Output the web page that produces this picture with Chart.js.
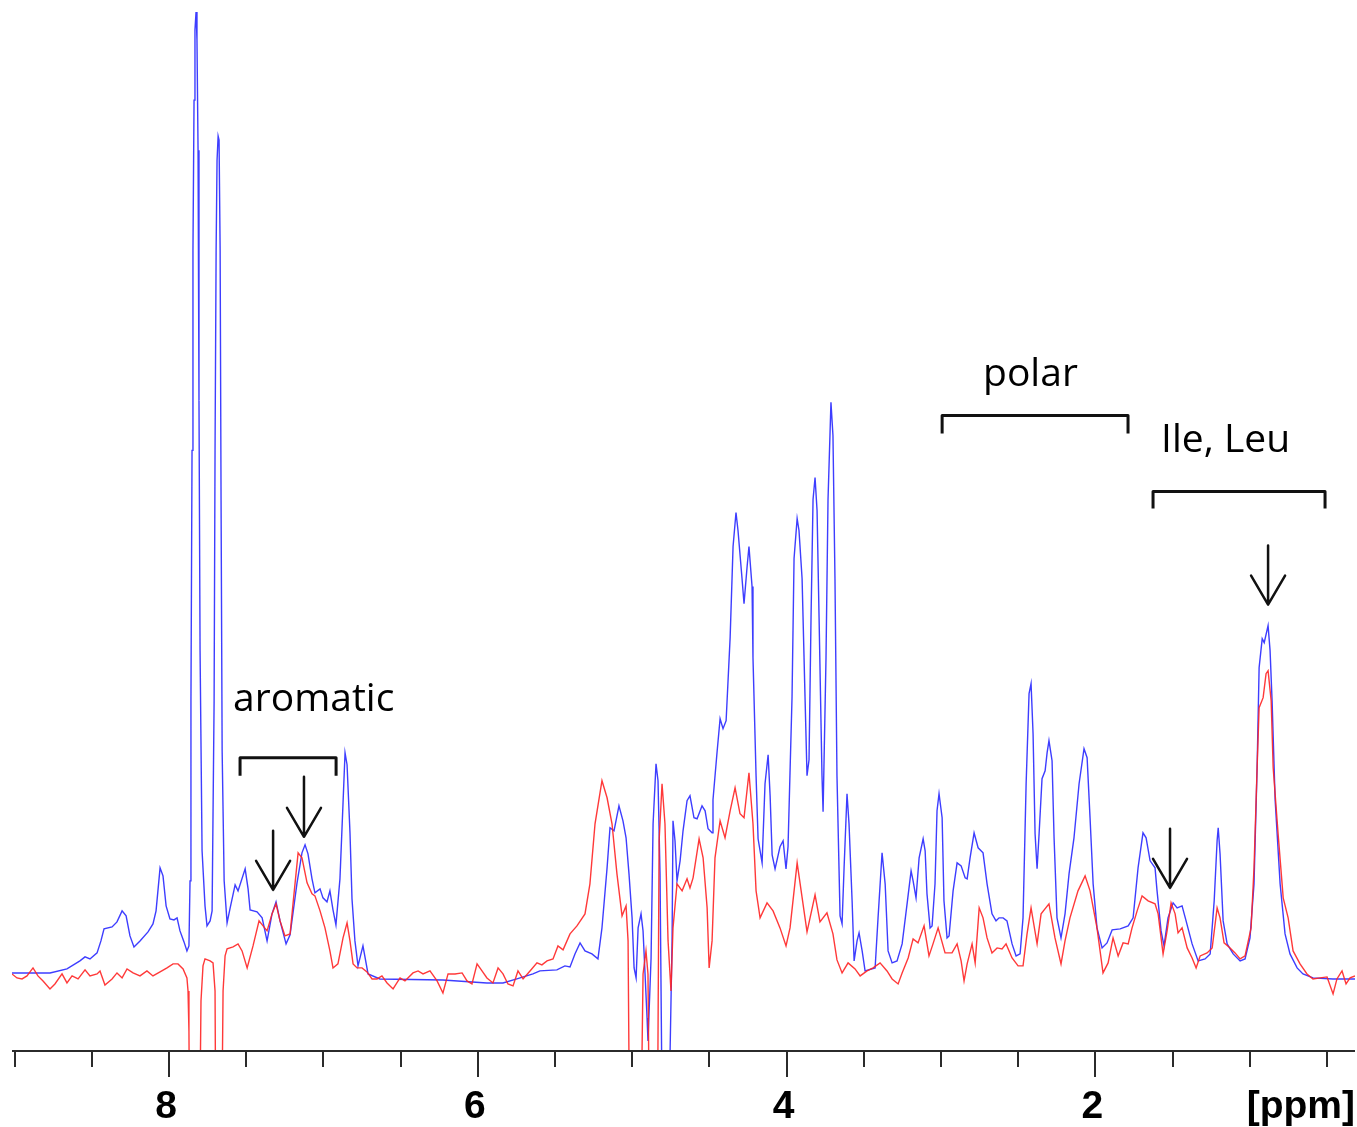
<!DOCTYPE html>
<html>
<head>
<meta charset="utf-8">
<script src="https://cdn.jsdelivr.net/npm/chart.js@4.4.1/dist/chart.umd.min.js"></script>
<style>
  html, body { margin: 0; padding: 0; background: #fff; }
  canvas { display: block; }
</style>
</head>
<body>
<canvas id="nmr" width="1357" height="1127"></canvas>
<script>
// Spectrum traces: [chemical shift in ppm, intensity (arbitrary units)]
const blueSpectrum = [
  [9.017, 3], [8.771, 3], [8.661, 7], [8.577, 15], [8.544, 19], [8.512, 17], [8.466, 23], [8.441, 35],
  [8.421, 47], [8.369, 49], [8.337, 54], [8.304, 65], [8.278, 60], [8.253, 40], [8.227, 29], [8.188, 35],
  [8.136, 44], [8.104, 52], [8.084, 65], [8.058, 108], [8.039, 100], [8.019, 70], [7.994, 57], [7.968, 56],
  [7.948, 58], [7.929, 45], [7.903, 34], [7.884, 25], [7.871, 30], [7.864, 95], [7.858, 275], [7.851, 525],
  [7.845, 725], [7.838, 875], [7.832, 945], [7.825, 963], [7.819, 935], [7.812, 825], [7.806, 575], [7.799, 325],
  [7.786, 125], [7.767, 70], [7.754, 50], [7.734, 55], [7.721, 65], [7.708, 275], [7.702, 525], [7.695, 725],
  [7.689, 815], [7.682, 839], [7.676, 835], [7.669, 725], [7.663, 475], [7.656, 225], [7.643, 95], [7.624, 53],
  [7.604, 68], [7.572, 91], [7.553, 85], [7.507, 107], [7.488, 87], [7.475, 66], [7.430, 64], [7.397, 58],
  [7.365, 35], [7.333, 62], [7.307, 74], [7.281, 55], [7.242, 32], [7.216, 41], [7.171, 93], [7.139, 123],
  [7.119, 131], [7.100, 122], [7.074, 97], [7.055, 83], [7.022, 87], [7.003, 78], [6.977, 74], [6.958, 85],
  [6.938, 66], [6.919, 51], [6.893, 97], [6.873, 173], [6.860, 223], [6.847, 211], [6.828, 143], [6.815, 77],
  [6.796, 35], [6.776, 10], [6.744, 30], [6.711, 2], [6.634, -3], [6.226, -4], [5.941, -7], [5.837, -7],
  [5.747, -3], [5.643, 2], [5.598, 5], [5.488, 6], [5.436, 10], [5.403, 9], [5.371, 22], [5.338, 33],
  [5.306, 25], [5.261, 22], [5.222, 17], [5.196, 48], [5.163, 108], [5.144, 148], [5.118, 145], [5.086, 170],
  [5.060, 155], [5.040, 138], [5.021, 102], [5.001, 58], [4.988, 8], [4.975, -2], [4.962, 48], [4.943, 62],
  [4.930, 45], [4.917, 2], [4.904, -42], [4.898, -65], [4.878, 18], [4.865, 152], [4.846, 212], [4.833, 195],
  [4.820, 102], [4.807, -125], [4.768, -125], [4.755, -77], [4.742, 35], [4.736, 155], [4.723, 135], [4.710, 95],
  [4.690, 115], [4.671, 145], [4.645, 175], [4.626, 180], [4.600, 158], [4.580, 157], [4.548, 170], [4.528, 165],
  [4.509, 147], [4.483, 143], [4.477, 176], [4.451, 223], [4.431, 257], [4.412, 247], [4.392, 255], [4.366, 338],
  [4.347, 429], [4.328, 463], [4.315, 445], [4.289, 397], [4.276, 372], [4.256, 409], [4.244, 429], [4.224, 389],
  [4.218, 318], [4.198, 200], [4.185, 137], [4.159, 113], [4.140, 192], [4.120, 221], [4.107, 180], [4.094, 121],
  [4.075, 107], [4.043, 129], [4.023, 135], [4.004, 107], [3.991, 129], [3.965, 279], [3.952, 417], [3.932, 457],
  [3.920, 445], [3.900, 397], [3.881, 279], [3.868, 200], [3.855, 216], [3.842, 358], [3.829, 476], [3.816, 498],
  [3.803, 465], [3.790, 358], [3.771, 200], [3.764, 164], [3.745, 318], [3.732, 476], [3.713, 573], [3.700, 540],
  [3.687, 397], [3.674, 200], [3.654, 60], [3.641, 52], [3.628, 108], [3.609, 182], [3.596, 152], [3.576, 75],
  [3.563, 15], [3.544, 35], [3.531, 43], [3.511, 25], [3.492, 5], [3.427, 8], [3.408, 58], [3.382, 123],
  [3.362, 92], [3.343, 25], [3.317, 13], [3.285, 15], [3.252, 32], [3.220, 72], [3.194, 105], [3.181, 95],
  [3.162, 78], [3.142, 118], [3.116, 137], [3.103, 125], [3.091, 82], [3.071, 48], [3.058, 50], [3.039, 92],
  [3.026, 165], [3.013, 182], [2.993, 158], [2.981, 75], [2.961, 38], [2.948, 40], [2.922, 85], [2.896, 113],
  [2.870, 110], [2.844, 98], [2.831, 97], [2.812, 118], [2.786, 143], [2.760, 128], [2.728, 123], [2.702, 92],
  [2.670, 62], [2.644, 55], [2.624, 58], [2.598, 58], [2.573, 55], [2.540, 32], [2.514, 20], [2.488, 22],
  [2.469, 58], [2.449, 192], [2.430, 282], [2.417, 292], [2.404, 242], [2.391, 142], [2.378, 107], [2.365, 142],
  [2.346, 197], [2.326, 205], [2.313, 223], [2.301, 235], [2.281, 215], [2.268, 138], [2.249, 58], [2.223, 38],
  [2.197, 62], [2.171, 102], [2.139, 138], [2.106, 192], [2.074, 227], [2.054, 218], [2.035, 158], [2.015, 92],
  [1.990, 48], [1.957, 28], [1.925, 33], [1.892, 46], [1.840, 47], [1.788, 50], [1.756, 58], [1.724, 108],
  [1.692, 143], [1.672, 138], [1.646, 115], [1.614, 108], [1.601, 85], [1.575, 45], [1.556, 30], [1.530, 58],
  [1.497, 73], [1.471, 68], [1.439, 70], [1.413, 55], [1.374, 32], [1.335, 15], [1.290, 17], [1.257, 22],
  [1.231, 75], [1.212, 135], [1.205, 148], [1.193, 122], [1.173, 55], [1.147, 32], [1.108, 22], [1.063, 15],
  [1.031, 17], [0.999, 38], [0.973, 92], [0.953, 208], [0.940, 308], [0.920, 337], [0.907, 333], [0.882, 350],
  [0.869, 325], [0.856, 275], [0.836, 175], [0.804, 92], [0.772, 42], [0.740, 22], [0.694, 8], [0.656, 2],
  [0.591, -2], [0.462, -3], [0.319, -3]
];

const redSpectrum = [
  [9.017, 2], [8.985, -2], [8.952, -3], [8.920, 0], [8.881, 8], [8.849, 0], [8.816, -5], [8.771, -13],
  [8.739, -8], [8.693, 2], [8.661, -7], [8.628, 0], [8.589, -3], [8.544, 6], [8.512, 0], [8.466, 2],
  [8.447, 5], [8.415, -9], [8.369, -3], [8.337, 3], [8.304, -2], [8.272, 7], [8.233, 3], [8.188, 0],
  [8.143, 5], [8.104, 0], [8.058, 4], [8.013, 8], [7.974, 12], [7.942, 12], [7.909, 7], [7.884, -2],
  [7.877, -15], [7.871, -55], [7.864, -225], [7.806, -225], [7.793, -25], [7.780, 10], [7.767, 17], [7.734, 15],
  [7.715, 13], [7.702, -15], [7.695, -225], [7.663, -225], [7.650, -15], [7.637, 20], [7.624, 27], [7.585, 29],
  [7.553, 32], [7.527, 25], [7.494, 8], [7.456, 30], [7.417, 55], [7.391, 50], [7.365, 45], [7.333, 62],
  [7.307, 72], [7.281, 55], [7.249, 40], [7.216, 42], [7.197, 72], [7.164, 123], [7.139, 118], [7.106, 93],
  [7.074, 82], [7.055, 80], [7.022, 65], [6.990, 48], [6.958, 25], [6.938, 8], [6.906, 12], [6.873, 38],
  [6.847, 53], [6.828, 35], [6.808, 12], [6.782, 8], [6.750, 8], [6.718, 4], [6.685, -3], [6.653, -3],
  [6.621, 0], [6.588, -7], [6.549, -13], [6.504, -2], [6.472, -5], [6.420, 3], [6.387, 5], [6.355, 2],
  [6.310, 5], [6.264, -5], [6.226, -17], [6.193, 2], [6.148, 2], [6.102, 3], [6.070, -5], [6.038, -8],
  [6.005, 12], [5.973, 5], [5.941, -2], [5.902, -7], [5.869, 8], [5.837, 2], [5.805, -8], [5.772, -10],
  [5.740, 5], [5.707, -3], [5.662, 5], [5.617, 13], [5.585, 11], [5.552, 15], [5.513, 17], [5.481, 30],
  [5.448, 26], [5.403, 42], [5.358, 50], [5.306, 62], [5.274, 92], [5.241, 152], [5.196, 195], [5.163, 178],
  [5.131, 152], [5.099, 102], [5.066, 60], [5.040, 70], [5.027, 35], [5.014, -225], [4.949, -225], [4.930, 2],
  [4.911, 25], [4.898, 2], [4.885, -225], [4.839, -225], [4.826, 135], [4.807, 192], [4.788, 152], [4.768, 35],
  [4.749, -15], [4.736, 48], [4.710, 92], [4.677, 85], [4.645, 97], [4.626, 88], [4.606, 98], [4.567, 137],
  [4.541, 118], [4.515, 68], [4.502, 8], [4.483, 35], [4.464, 118], [4.431, 155], [4.399, 138], [4.366, 165],
  [4.334, 188], [4.302, 162], [4.276, 158], [4.244, 203], [4.218, 152], [4.198, 85], [4.172, 58], [4.127, 73],
  [4.088, 65], [4.043, 48], [4.004, 30], [3.978, 48], [3.932, 113], [3.868, 44], [3.816, 81], [3.784, 54],
  [3.739, 63], [3.700, 42], [3.674, 16], [3.641, 3], [3.602, 13], [3.557, 7], [3.524, 0], [3.479, 5],
  [3.440, 8], [3.395, 13], [3.350, 5], [3.317, -3], [3.278, -8], [3.252, 3], [3.213, 18], [3.181, 37],
  [3.149, 33], [3.110, 50], [3.078, 20], [3.052, 32], [3.019, 48], [2.974, 23], [2.929, 23], [2.896, 32],
  [2.870, 15], [2.851, -5], [2.831, 12], [2.799, 32], [2.779, 13], [2.753, 68], [2.728, 58], [2.702, 38],
  [2.670, 23], [2.637, 28], [2.605, 27], [2.579, 32], [2.540, 18], [2.501, 10], [2.469, 10], [2.443, 42],
  [2.417, 68], [2.378, 32], [2.352, 62], [2.301, 72], [2.262, 38], [2.223, 12], [2.197, 35], [2.165, 58],
  [2.113, 85], [2.067, 100], [2.035, 85], [1.990, 48], [1.951, 3], [1.918, 13], [1.886, 38], [1.853, 20],
  [1.821, 33], [1.788, 32], [1.763, 48], [1.730, 65], [1.698, 80], [1.659, 75], [1.614, 72], [1.594, 62],
  [1.562, 22], [1.536, 45], [1.510, 73], [1.484, 62], [1.465, 43], [1.439, 48], [1.406, 28], [1.374, 18],
  [1.348, 8], [1.322, 20], [1.277, 23], [1.244, 28], [1.212, 68], [1.193, 58], [1.167, 33], [1.128, 28],
  [1.096, 23], [1.063, 17], [1.031, 20], [0.992, 48], [0.973, 108], [0.953, 208], [0.940, 268], [0.914, 278],
  [0.895, 302], [0.882, 305], [0.862, 275], [0.849, 208], [0.817, 142], [0.784, 78], [0.752, 58], [0.720, 25],
  [0.675, 12], [0.630, 2], [0.591, -3], [0.545, -2], [0.500, -1], [0.461, -18], [0.436, -3], [0.403, 5],
  [0.377, -8], [0.351, -2], [0.319, 0]
];

// Axis ticks (ppm)
const tickValues = [0.5, 1, 1.5, 2, 2.5, 3, 3.5, 4, 4.5, 5, 5.5, 6, 6.5, 7, 7.5, 8, 8.5, 9];
const labelValues = [2, 4, 6, 8];
const axisUnit = '[ppm]';

// Region labels and markers: ppm positions, intensities
const regionTexts = [
  { text: 'aromatic', ppm: 7.585, y: 265 },
  { text: 'polar', ppm: 2.728, y: 589 },
  { text: 'Ile, Leu', ppm: 1.575, y: 523 }
];
const brackets = [
  { from: 7.540, to: 6.918, top: 218, end: 200 },
  { from: 2.993, to: 1.789, top: 560, end: 542 },
  { from: 1.627, to: 0.513, top: 484, end: 467 }
];
const arrows = [
  { ppm: 7.326, top: 145, tip: 86 },
  { ppm: 7.126, top: 199, tip: 139 },
  { ppm: 1.517, top: 147, tip: 88 },
  { ppm: 0.882, top: 430, tip: 371 }
];

const toPoints = arr => arr.map(p => ({ x: p[0], y: p[1] }));

// Draws the ppm axis and the annotations on top of the traces
const decorations = {
  id: 'decorations',
  afterDraw(chart) {
    const { ctx, chartArea, scales } = chart;
    const xs = scales.x, ys = scales.y;
    const base = chartArea.bottom;
    ctx.save();

    // axis line and ticks
    ctx.strokeStyle = '#2b2b2b';
    ctx.lineWidth = 2;
    ctx.beginPath();
    ctx.moveTo(chartArea.left, base);
    ctx.lineTo(chartArea.right, base);
    ctx.stroke();
    tickValues.forEach(v => {
      const px = Math.round(xs.getPixelForValue(v));
      const len = labelValues.includes(v) ? 26 : 16;
      ctx.beginPath();
      ctx.moveTo(px, base);
      ctx.lineTo(px, base + len);
      ctx.stroke();
    });

    ctx.fillStyle = '#000';
    ctx.font = 'bold 39px "Liberation Sans", Arial, sans-serif';
    ctx.textAlign = 'center';
    ctx.textBaseline = 'alphabetic';
    labelValues.forEach(v => {
      ctx.fillText(String(v), xs.getPixelForValue(v) - 3, base + 67);
    });
    ctx.textAlign = 'right';
    ctx.fillText(axisUnit, chartArea.right, base + 67);

    // region names
    ctx.font = '39px "Open Sans", sans-serif';
    ctx.textAlign = 'left';
    regionTexts.forEach(t => {
      ctx.fillText(t.text, xs.getPixelForValue(t.ppm), ys.getPixelForValue(t.y));
    });

    // brackets
    ctx.strokeStyle = '#111';
    ctx.lineWidth = 3;
    ctx.lineJoin = 'round';
    brackets.forEach(b => {
      const x1 = xs.getPixelForValue(b.from), x2 = xs.getPixelForValue(b.to);
      const yt = ys.getPixelForValue(b.top), ye = ys.getPixelForValue(b.end);
      ctx.beginPath();
      ctx.moveTo(x1, ye);
      ctx.lineTo(x1, yt);
      ctx.lineTo(x2, yt);
      ctx.lineTo(x2, ye);
      ctx.stroke();
    });

    // arrows
    ctx.lineWidth = 2.5;
    ctx.lineCap = 'round';
    arrows.forEach(a => {
      const px = xs.getPixelForValue(a.ppm);
      const yt = ys.getPixelForValue(a.top), yp = ys.getPixelForValue(a.tip);
      ctx.beginPath();
      ctx.moveTo(px, yt);
      ctx.lineTo(px, yp);
      ctx.moveTo(px - 17, yp - 29);
      ctx.lineTo(px, yp);
      ctx.lineTo(px + 17, yp - 29);
      ctx.stroke();
    });

    ctx.restore();
  }
};

new Chart(document.getElementById('nmr'), {
  type: 'line',
  data: {
    datasets: [
      {
        label: 'red',
        data: toPoints(redSpectrum),
        borderColor: 'rgba(255, 35, 35, 0.9)',
        borderWidth: 1.4,
        pointRadius: 0,
        tension: 0,
        order: 0
      },
      {
        label: 'blue',
        data: toPoints(blueSpectrum),
        borderColor: 'rgba(40, 40, 255, 0.9)',
        borderWidth: 1.4,
        pointRadius: 0,
        tension: 0,
        order: 1
      }
    ]
  },
  options: {
    responsive: false,
    animation: false,
    devicePixelRatio: 1,
    layout: { padding: { left: 12, right: 2, top: 8, bottom: 76 } },
    plugins: {
      legend: { display: false },
      tooltip: { enabled: false }
    },
    scales: {
      x: { type: 'linear', reverse: true, min: 0.319, max: 9.017, display: false },
      y: { min: -75, max: 967, display: false }
    }
  },
  plugins: [decorations]
});
</script>
</body>
</html>
